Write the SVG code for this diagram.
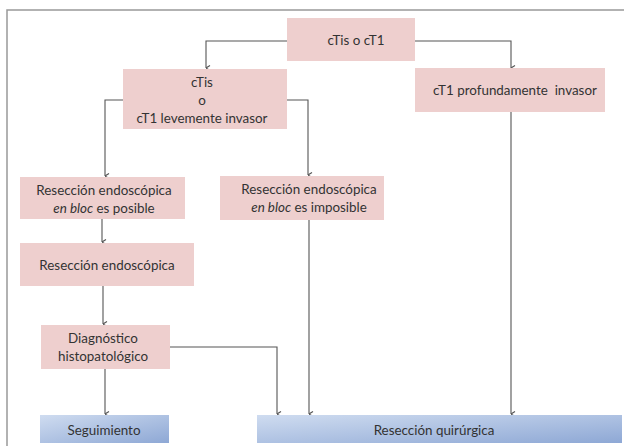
<svg xmlns="http://www.w3.org/2000/svg" width="624" height="446" viewBox="0 0 624 446">
<defs>
<style>
.pink{fill:#eecfce;}
.blue{fill:url(#gb);}
text{font-family:Lato,"Open Sans","Liberation Sans",sans-serif;font-size:13.4px;fill:#333;text-anchor:middle;}
.c{fill:none;stroke:#555;stroke-width:1.1;marker-end:url(#ah);}
.frame{fill:none;stroke:#999;stroke-width:1.5;}
</style>
<linearGradient id="gb" x1="0" y1="0" x2="1" y2="1">
<stop offset="0" stop-color="#cfdcf0"/>
<stop offset="1" stop-color="#8ea8d5"/>
</linearGradient>
<marker id="ah" viewBox="0 0 8 8" refX="4" refY="7.5" markerWidth="8" markerHeight="8" markerUnits="userSpaceOnUse" orient="auto-start-reverse">
<path d="M1.5,3.5 L4,7.5 L6.5,3.5" fill="none" stroke="#555" stroke-width="1.1"/>
</marker>
</defs>
<rect width="624" height="446" fill="#fff"/>
<path class="frame" d="M7,446 V10 H624"/>
<g id="connectors">
<path class="c" d="M287,41 H206 V68"/>
<path class="c" d="M415,41 H511 V68"/>
<path class="c" d="M123,100 H105 V176"/>
<path class="c" d="M287,100 H308 V175"/>
<path class="c" d="M102,219 V242"/>
<path class="c" d="M103,286 V324"/>
<path class="c" d="M105,369 V414"/>
<path class="c" d="M170,347 H277 V414"/>
<path class="c" d="M309,220 V414"/>
<path class="c" d="M511,112 V414"/>
</g>
<g id="n1"><rect class="pink" x="287" y="18" width="128" height="43"/><text x="356" y="45">cTis o cT1</text></g>
<g id="n2"><rect class="pink" x="123" y="69" width="164" height="60"/><text x="202" y="87">cTis</text><text x="202" y="105">o</text><text x="202" y="123">cT1 levemente invasor</text></g>
<g id="n3"><rect class="pink" x="415" y="68" width="190" height="44"/><text x="515" y="95" xml:space="preserve">cT1 profundamente  invasor</text></g>
<g id="n4"><rect class="pink" x="20" y="177" width="165" height="42"/><text x="104" y="195">Resección endoscópica</text><text x="104" y="213"><tspan font-style="italic">en bloc</tspan> es posible</text></g>
<g id="n5"><rect class="pink" x="220" y="176" width="164" height="44"/><text x="309" y="194">Resección endoscópica</text><text x="309" y="212"><tspan font-style="italic">en bloc</tspan> es imposible</text></g>
<g id="n6"><rect class="pink" x="20" y="243" width="174" height="43"/><text x="107" y="270">Resección endoscópica</text></g>
<g id="n7"><rect class="pink" x="41" y="325" width="129" height="44"/><text x="103" y="343">Diagnóstico</text><text x="103" y="361">histopatológico</text></g>
<g id="n8"><rect class="blue" x="40" y="415" width="129" height="28"/><text x="104" y="435">Seguimiento</text></g>
<g id="n9"><rect class="blue" x="257" y="415" width="365" height="28"/><text x="434" y="435">Resección quirúrgica</text></g>
</svg>
